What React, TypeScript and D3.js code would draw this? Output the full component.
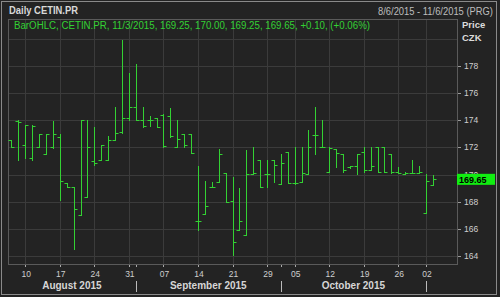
import React from "react";
import * as d3 from "d3";

// ---- data ----
const dates = [
  "2015-08-06","2015-08-07","2015-08-10","2015-08-11","2015-08-12","2015-08-13","2015-08-14",
  "2015-08-17","2015-08-18","2015-08-19","2015-08-20","2015-08-21","2015-08-24","2015-08-25",
  "2015-08-26","2015-08-27","2015-08-28","2015-08-31","2015-09-01","2015-09-02","2015-09-03",
  "2015-09-04","2015-09-07","2015-09-08","2015-09-09","2015-09-10","2015-09-11","2015-09-14",
  "2015-09-15","2015-09-16","2015-09-17","2015-09-18","2015-09-21","2015-09-22","2015-09-23",
  "2015-09-24","2015-09-25","2015-09-29","2015-09-30","2015-10-01","2015-10-02","2015-10-05",
  "2015-10-06","2015-10-07","2015-10-08","2015-10-09","2015-10-12","2015-10-13","2015-10-14",
  "2015-10-15","2015-10-16","2015-10-19","2015-10-20","2015-10-21","2015-10-22","2015-10-23",
  "2015-10-26","2015-10-27","2015-10-29","2015-10-30","2015-11-02","2015-11-03",
];
const futureDates = ["2015-11-04", "2015-11-05", "2015-11-06"];

const open = [
  172.55,173.95,172.2,171.25,172.0,171.5,172.0,172.8,169.35,169.05,167.0,168.35,171.0,171.05,
  171.05,172.55,173.15,174.2,175.0,174.05,174.05,174.15,174.4,174.3,172.05,173.0,173.0,166.6,
  167.1,169.1,169.45,170.1,168.05,165.95,165.55,170.05,171.05,170.05,171.05,169.3,171.7,169.4,
  169.45,170.05,172.9,172.0,170.2,171.85,171.55,170.55,170.6,171.7,170.3,172.0,172.0,171.5,
  170.2,170.05,170.15,170.15,167.15,169.25,
];
const high = [
  172.55,174.0,173.65,173.65,173.0,173.0,173.95,173.0,169.4,169.05,174.0,174.0,173.5,172.2,
  172.85,175.0,179.9,177.45,178.15,175.0,174.3,174.15,174.45,174.9,174.0,173.0,173.0,170.65,
  169.55,169.45,171.85,170.1,169.85,169.0,171.8,172.0,171.05,171.05,171.05,171.55,171.7,172.0,
  172.05,173.3,175.0,174.0,172.0,171.85,171.55,170.65,171.5,172.0,172.0,172.0,172.0,171.5,
  170.55,170.2,171.1,170.6,170.05,170.0,
];
const low = [
  172.0,171.1,171.2,171.1,172.0,171.5,171.95,168.15,169.1,164.55,167.0,168.35,170.7,171.05,
  171.05,172.55,173.05,174.0,174.05,173.5,173.55,173.5,172.0,172.8,172.0,172.05,171.6,165.95,
  167.1,169.05,169.45,168.0,164.05,165.95,165.55,170.05,169.1,169.05,169.45,169.3,169.4,169.3,
  169.45,170.05,171.55,172.0,170.2,170.55,170.2,170.45,170.05,170.2,170.3,170.2,170.2,170.15,
  170.15,170.05,170.15,170.15,167.15,169.25,
];
const close = [
  172.0,173.9,173.65,173.6,173.0,173.0,173.0,169.55,169.1,167.5,174.0,172.0,170.85,172.2,
  172.55,173.05,174.2,175.0,174.05,173.55,174.05,173.5,172.1,172.85,172.65,172.2,171.6,166.6,
  167.7,169.1,171.55,168.0,165.05,166.55,170.05,170.15,169.1,170.05,170.7,170.85,169.4,169.35,
  170.1,172.0,172.9,172.0,171.95,171.6,170.35,170.6,171.5,170.3,170.6,170.2,170.2,170.2,
  170.15,170.15,170.15,170.2,169.55,169.65,
];

const yTicks = [164, 166, 168, 170, 172, 174, 176, 178];
const yGrid = [164, 166, 168, 170, 172, 174, 176, 178, 180];
const xTickDates = [
  "2015-08-10","2015-08-17","2015-08-24","2015-08-31","2015-09-07","2015-09-14","2015-09-21",
  "2015-09-29","2015-10-05","2015-10-12","2015-10-19","2015-10-26","2015-11-02",
];
const xTickLabels = ["10","17","24","31","07","14","21","29","05","12","19","26","02"];
const monthStartDates = ["2015-09-01", "2015-10-01", "2015-11-02"];
const monthLabels = ["August 2015", "September 2015", "October 2015"];

const title = "Daily CETIN.PR";
const rangeText = "8/6/2015 - 11/6/2015 (PRG)";
const legendText = "BarOHLC, CETIN.PR, 11/3/2015, 169.25, 170.00, 169.25, 169.65, +0.10, (+0.06%)";
const lastLabel = "169.65";

const BG = "#232323";
const GRID = "#3b3b3b";
const GREEN = "#33d133";
const TXT = "#cfcfcf";
const FONT = "'Liberation Sans', Arial, sans-serif";

export default function App() {
  const W = 500, H = 297;
  const plot = { left: 8, right: 457, top: 19, bottom: 264 };

  const x = d3
    .scaleBand<string>()
    .domain([...dates, ...futureDates])
    .range([plot.left, plot.right])
    .padding(0);
  const bw = x.bandwidth();
  const cx = (d: string) => (x(d) as number) + bw / 2;

  const y = d3.scaleLinear().domain([164, 178]).range([256, 66]);
  const crisp = (v: number) => Math.round(v) + 0.5;

  const bars = dates.map((d, i) => ({ d, o: open[i], h: high[i], l: low[i], c: close[i] }));

  const monthBounds = [plot.left, ...monthStartDates.map(cx)];
  const last = close[close.length - 1];

  return (
    <svg
      width={W}
      height={H}
      style={{ position: "absolute", left: 0, top: 0, display: "block" }}
      fontFamily={FONT}
    >
      <rect x={0} y={0} width={W} height={H} fill={BG} />
      <rect x={1.5} y={1.5} width={495} height={293} fill="none" stroke="#8a8a8a" />

      {/* grid */}
      {yGrid.map((v) => (
        <line key={"gy" + v} x1={plot.left} x2={plot.right} y1={crisp(y(v))} y2={crisp(y(v))} stroke={GRID} />
      ))}
      {xTickDates.map((d) => (
        <line key={"gx" + d} x1={crisp(cx(d))} x2={crisp(cx(d))} y1={plot.top} y2={plot.bottom} stroke={GRID} />
      ))}

      {/* plot frame */}
      <rect
        x={plot.left + 0.5}
        y={plot.top + 0.5}
        width={plot.right - plot.left}
        height={plot.bottom - plot.top}
        fill="none"
        stroke="#5a5a5a"
      />

      {/* OHLC bars */}
      {bars.map((b) => {
        const xc = crisp(cx(b.d));
        return (
          <g key={b.d} stroke={GREEN} strokeWidth={1}>
            <line x1={xc} x2={xc} y1={crisp(y(b.h)) - 0.5} y2={crisp(y(b.l)) + 0.5} />
            <line x1={xc - 3} x2={xc} y1={crisp(y(b.o))} y2={crisp(y(b.o))} />
            <line x1={xc} x2={xc + 3} y1={crisp(y(b.c))} y2={crisp(y(b.c))} />
          </g>
        );
      })}

      {/* header */}
      <text x={9} y={14} fill="#d8d8d8" fontSize={10} fontWeight="bold" textLength={69} lengthAdjust="spacingAndGlyphs">
        {title}
      </text>
      <text x={493} y={14.5} fill="#bdbdbd" fontSize={10} textAnchor="end" textLength={115} lengthAdjust="spacingAndGlyphs">
        {rangeText}
      </text>
      <text x={14} y={28.5} fill={GREEN} fontSize={10} textLength={356} lengthAdjust="spacingAndGlyphs">
        {legendText}
      </text>
      <text x={462} y={28} fill="#dcdcdc" fontSize={9.5} fontWeight="bold">Price</text>
      <text x={462} y={40.5} fill="#dcdcdc" fontSize={9.5} fontWeight="bold">CZK</text>

      {/* y axis */}
      {yTicks.map((v) => (
        <g key={"yt" + v}>
          <line x1={plot.right + 1} x2={plot.right + 4} y1={crisp(y(v))} y2={crisp(y(v))} stroke="#9a9a9a" />
          <text x={464} y={y(v) + 3} fill={TXT} fontSize={8.5}>
            {v}
          </text>
        </g>
      ))}
      <rect x={457} y={y(last) - 5.5} width={38} height={11} fill="#11ee11" />
      <text x={459} y={y(last) + 3.3} fill="#000" fontSize={9} fontWeight="bold">
        {lastLabel}
      </text>

      {/* x axis */}
      {xTickDates.map((d, i) => (
        <g key={"xt" + d}>
          <line x1={crisp(cx(d))} x2={crisp(cx(d))} y1={plot.bottom + 1} y2={plot.bottom + 3} stroke="#aaa" />
          <text x={cx(d) + 1} y={276.5} fill={TXT} fontSize={8.5} textAnchor="middle">
            {xTickLabels[i]}
          </text>
        </g>
      ))}
      {monthStartDates.map((d) => (
        <g key={"ms" + d}>
          <line x1={crisp(cx(d))} x2={crisp(cx(d))} y1={plot.bottom + 1} y2={plot.bottom + 3} stroke="#aaa" />
          <line x1={crisp(cx(d))} x2={crisp(cx(d))} y1={281} y2={292} stroke="#bbb" />
        </g>
      ))}
      {monthLabels.map((m, i) => (
        <text
          key={m}
          x={(monthBounds[i] + monthBounds[i + 1]) / 2}
          y={289}
          fill="#d6d6d6"
          fontSize={10}
          fontWeight="bold"
          textAnchor="middle"
        >
          {m}
        </text>
      ))}
    </svg>
  );
}
